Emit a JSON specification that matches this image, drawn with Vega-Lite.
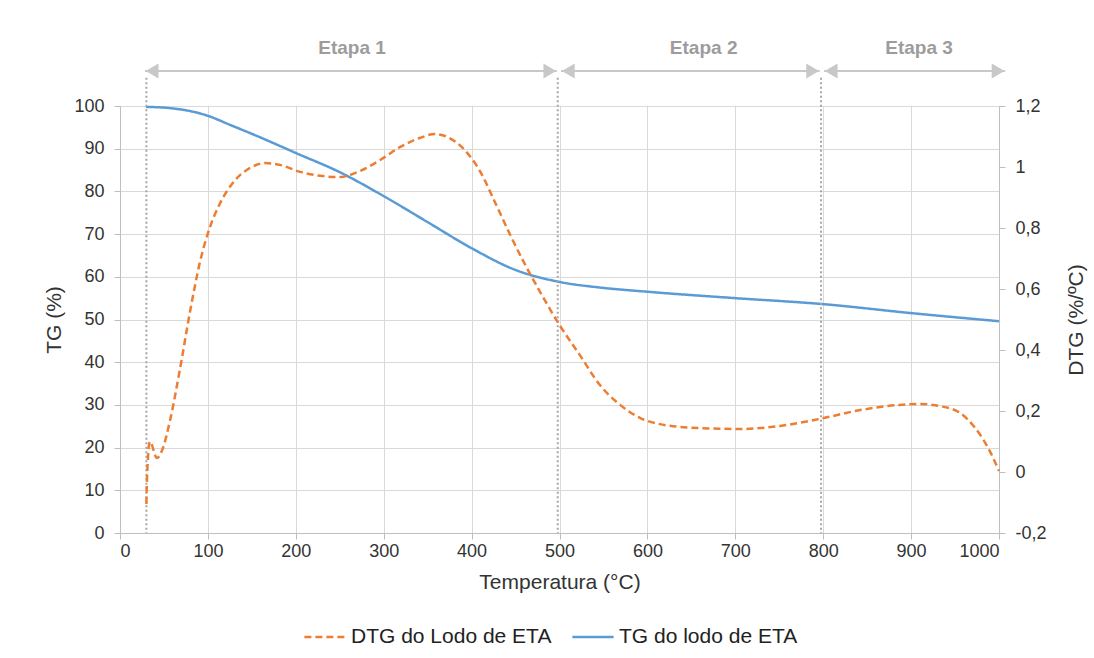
{
  "$schema": "https://vega.github.io/schema/vega-lite/v6.json",
  "width": 879,
  "height": 427,
  "autosize": {"type": "none"},
  "padding": {"left": 120, "top": 106, "right": 95, "bottom": 125},
  "background": "white",
  "config": {
    "view": {"stroke": null},
    "font": "Liberation Sans",
    "axis": {
      "domainColor": "#bfbfbf",
      "tickColor": "#bfbfbf",
      "gridColor": "#d9d9d9",
      "labelFontSize": 18,
      "titleFontSize": 21,
      "labelColor": "#333333",
      "titleColor": "#333333",
      "titleFontWeight": "normal",
      "labelFont": "Liberation Sans",
      "titleFont": "Liberation Sans",
      "tickSize": 6
    },
    "legend": {"labelFont": "Liberation Sans"}
  },
  "datasets": {
    "tg": [
      {"t": 29.6, "v": 99.8, "serie": "TG do lodo de ETA"},
      {"t": 57, "v": 99.5, "serie": "TG do lodo de ETA"},
      {"t": 80, "v": 98.8, "serie": "TG do lodo de ETA"},
      {"t": 100, "v": 97.7, "serie": "TG do lodo de ETA"},
      {"t": 125, "v": 95.6, "serie": "TG do lodo de ETA"},
      {"t": 159, "v": 92.7, "serie": "TG do lodo de ETA"},
      {"t": 200, "v": 89.0, "serie": "TG do lodo de ETA"},
      {"t": 250, "v": 84.5, "serie": "TG do lodo de ETA"},
      {"t": 300, "v": 78.9, "serie": "TG do lodo de ETA"},
      {"t": 350, "v": 72.8, "serie": "TG do lodo de ETA"},
      {"t": 400, "v": 66.7, "serie": "TG do lodo de ETA"},
      {"t": 450, "v": 61.6, "serie": "TG do lodo de ETA"},
      {"t": 500, "v": 58.8, "serie": "TG do lodo de ETA"},
      {"t": 550, "v": 57.4, "serie": "TG do lodo de ETA"},
      {"t": 600, "v": 56.5, "serie": "TG do lodo de ETA"},
      {"t": 700, "v": 55.0, "serie": "TG do lodo de ETA"},
      {"t": 800, "v": 53.6, "serie": "TG do lodo de ETA"},
      {"t": 900, "v": 51.5, "serie": "TG do lodo de ETA"},
      {"t": 1000, "v": 49.6, "serie": "TG do lodo de ETA"}
    ],
    "dtg": [
      {"t": 30, "v": -0.105, "serie": "DTG do Lodo de ETA"},
      {"t": 31, "v": 0.0, "serie": "DTG do Lodo de ETA"},
      {"t": 34, "v": 0.10, "serie": "DTG do Lodo de ETA"},
      {"t": 42, "v": 0.046, "serie": "DTG do Lodo de ETA"},
      {"t": 48, "v": 0.072, "serie": "DTG do Lodo de ETA"},
      {"t": 57, "v": 0.17, "serie": "DTG do Lodo de ETA"},
      {"t": 68, "v": 0.334, "serie": "DTG do Lodo de ETA"},
      {"t": 80, "v": 0.531, "serie": "DTG do Lodo de ETA"},
      {"t": 91, "v": 0.689, "serie": "DTG do Lodo de ETA"},
      {"t": 102, "v": 0.80, "serie": "DTG do Lodo de ETA"},
      {"t": 114, "v": 0.882, "serie": "DTG do Lodo de ETA"},
      {"t": 131, "v": 0.957, "serie": "DTG do Lodo de ETA"},
      {"t": 148, "v": 0.997, "serie": "DTG do Lodo de ETA"},
      {"t": 165, "v": 1.013, "serie": "DTG do Lodo de ETA"},
      {"t": 182, "v": 1.007, "serie": "DTG do Lodo de ETA"},
      {"t": 205, "v": 0.984, "serie": "DTG do Lodo de ETA"},
      {"t": 228, "v": 0.971, "serie": "DTG do Lodo de ETA"},
      {"t": 250, "v": 0.967, "serie": "DTG do Lodo de ETA"},
      {"t": 273, "v": 0.987, "serie": "DTG do Lodo de ETA"},
      {"t": 296, "v": 1.023, "serie": "DTG do Lodo de ETA"},
      {"t": 319, "v": 1.066, "serie": "DTG do Lodo de ETA"},
      {"t": 341, "v": 1.095, "serie": "DTG do Lodo de ETA"},
      {"t": 358, "v": 1.108, "serie": "DTG do Lodo de ETA"},
      {"t": 375, "v": 1.095, "serie": "DTG do Lodo de ETA"},
      {"t": 392, "v": 1.056, "serie": "DTG do Lodo de ETA"},
      {"t": 410, "v": 0.984, "serie": "DTG do Lodo de ETA"},
      {"t": 427, "v": 0.882, "serie": "DTG do Lodo de ETA"},
      {"t": 444, "v": 0.777, "serie": "DTG do Lodo de ETA"},
      {"t": 461, "v": 0.679, "serie": "DTG do Lodo de ETA"},
      {"t": 478, "v": 0.59, "serie": "DTG do Lodo de ETA"},
      {"t": 500, "v": 0.482, "serie": "DTG do Lodo de ETA"},
      {"t": 523, "v": 0.384, "serie": "DTG do Lodo de ETA"},
      {"t": 546, "v": 0.285, "serie": "DTG do Lodo de ETA"},
      {"t": 569, "v": 0.22, "serie": "DTG do Lodo de ETA"},
      {"t": 592, "v": 0.177, "serie": "DTG do Lodo de ETA"},
      {"t": 614, "v": 0.157, "serie": "DTG do Lodo de ETA"},
      {"t": 660, "v": 0.144, "serie": "DTG do Lodo de ETA"},
      {"t": 705, "v": 0.141, "serie": "DTG do Lodo de ETA"},
      {"t": 751, "v": 0.151, "serie": "DTG do Lodo de ETA"},
      {"t": 796, "v": 0.174, "serie": "DTG do Lodo de ETA"},
      {"t": 842, "v": 0.203, "serie": "DTG do Lodo de ETA"},
      {"t": 887, "v": 0.22, "serie": "DTG do Lodo de ETA"},
      {"t": 910, "v": 0.223, "serie": "DTG do Lodo de ETA"},
      {"t": 933, "v": 0.216, "serie": "DTG do Lodo de ETA"},
      {"t": 956, "v": 0.193, "serie": "DTG do Lodo de ETA"},
      {"t": 973, "v": 0.144, "serie": "DTG do Lodo de ETA"},
      {"t": 990, "v": 0.066, "serie": "DTG do Lodo de ETA"},
      {"t": 1000, "v": 0.003, "serie": "DTG do Lodo de ETA"}
    ],
    "divs": [
      {"t": 30, "v": 106.6, "v2": 0},
      {"t": 498, "v": 106.6, "v2": 0},
      {"t": 797.5, "v": 106.6, "v2": 0}
    ],
    "arrows": [
      {"t": 28.4, "t2": 497, "v": 108.2},
      {"t": 501.7, "t2": 796, "v": 108.2},
      {"t": 801, "t2": 1007, "v": 108.2}
    ],
    "heads": [
      {"t": 36.5, "v": 108.2, "side": "left"},
      {"t": 489, "v": 108.2, "side": "right"},
      {"t": 510, "v": 108.2, "side": "left"},
      {"t": 788, "v": 108.2, "side": "right"},
      {"t": 809, "v": 108.2, "side": "left"},
      {"t": 999, "v": 108.2, "side": "right"}
    ],
    "etapas": [
      {"t": 264, "v": 113.6, "label": "Etapa 1"},
      {"t": 664, "v": 113.6, "label": "Etapa 2"},
      {"t": 909, "v": 113.6, "label": "Etapa 3"}
    ]
  },
  "encoding": {
    "x": {
      "field": "t", "type": "quantitative",
      "scale": {"domain": [0, 1000], "nice": false},
      "axis": {
        "title": "Temperatura (°C)",
        "values": [0, 100, 200, 300, 400, 500, 600, 700, 800, 900, 1000],
        "format": "d",
        "grid": true,
        "labelPadding": 3,
        "titlePadding": 11
      }
    }
  },
  "layer": [
    {
      "encoding": {
        "y": {
          "field": "v", "type": "quantitative",
          "scale": {"domain": [0, 100], "nice": false},
          "axis": {
            "title": "TG (%)",
            "orient": "left",
            "values": [0, 10, 20, 30, 40, 50, 60, 70, 80, 90, 100],
            "grid": true,
            "labelPadding": 10,
            "titlePadding": 9
          }
        }
      },
      "layer": [
        {
          "data": {"name": "tg"},
          "mark": {"type": "line", "interpolate": "monotone", "strokeWidth": 2.5},
          "encoding": {
            "color": {
              "field": "serie", "type": "nominal",
              "scale": {"domain": ["DTG do Lodo de ETA", "TG do lodo de ETA"], "range": ["#ED7D31", "#5B9BD5"]},
              "legend": {
                "title": null, "orient": "none", "direction": "horizontal",
                "legendX": 183, "legendY": 509,
                "symbolType": "stroke", "symbolSize": 1700, "symbolStrokeWidth": 2.5,
                "labelFontSize": 21, "labelColor": "#222222", "labelOffset": 4, "labelLimit": 400,
                "columnPadding": 15
              }
            },
            "strokeDash": {
              "field": "serie", "type": "nominal",
              "scale": {"domain": ["DTG do Lodo de ETA", "TG do lodo de ETA"], "range": [[7, 4], [1, 0]]},
              "legend": {
                "title": null, "orient": "none", "direction": "horizontal",
                "legendX": 183, "legendY": 509,
                "symbolType": "stroke", "symbolSize": 1700, "symbolStrokeWidth": 2.5,
                "labelFontSize": 21, "labelColor": "#222222", "labelOffset": 4, "labelLimit": 400,
                "columnPadding": 15
              }
            }
          }
        },
        {
          "data": {"name": "divs"},
          "mark": {"type": "rule", "color": "#a6a6a6", "strokeWidth": 2, "strokeDash": [2, 2.5]},
          "encoding": {
            "y2": {"field": "v2"}
          }
        },
        {
          "data": {"name": "arrows"},
          "mark": {"type": "rule", "color": "#c8c8c8", "strokeWidth": 2},
          "encoding": {
            "x2": {"field": "t2"}
          }
        },
        {
          "data": {"name": "heads"},
          "transform": [{"filter": "datum.side === 'left'"}],
          "mark": {"type": "point", "shape": "triangle-left", "filled": true, "color": "#c8c8c8", "opacity": 1, "size": 220},
          "encoding": {}
        },
        {
          "data": {"name": "heads"},
          "transform": [{"filter": "datum.side === 'right'"}],
          "mark": {"type": "point", "shape": "triangle-right", "filled": true, "color": "#c8c8c8", "opacity": 1, "size": 220},
          "encoding": {}
        },
        {
          "data": {"name": "etapas"},
          "mark": {"type": "text", "fontSize": 19, "fontWeight": "bold", "color": "#9c9c9c", "font": "Liberation Sans", "baseline": "middle", "align": "center"},
          "encoding": {
            "text": {"field": "label"}
          }
        }
      ]
    },
    {
      "data": {"name": "dtg"},
      "mark": {"type": "line", "interpolate": "monotone", "strokeWidth": 2.5},
      "encoding": {
        "y": {
          "field": "v", "type": "quantitative",
          "scale": {"domain": [-0.2, 1.2], "nice": false},
          "axis": {
            "title": "DTG (%/ºC)",
            "orient": "right",
            "titleAngle": 270,
            "values": [-0.2, 0, 0.2, 0.4, 0.6, 0.8, 1, 1.2],
            "labelExpr": "replace(replace(format(datum.value, '.1~f'), '.', ','), '\u2212', '-')",
            "grid": false,
            "labelPadding": 10,
            "titlePadding": 40
          }
        },
        "color": {"field": "serie", "type": "nominal"},
        "strokeDash": {"field": "serie", "type": "nominal"}
      }
    }
  ],
  "resolve": {"scale": {"y": "independent"}}
}
